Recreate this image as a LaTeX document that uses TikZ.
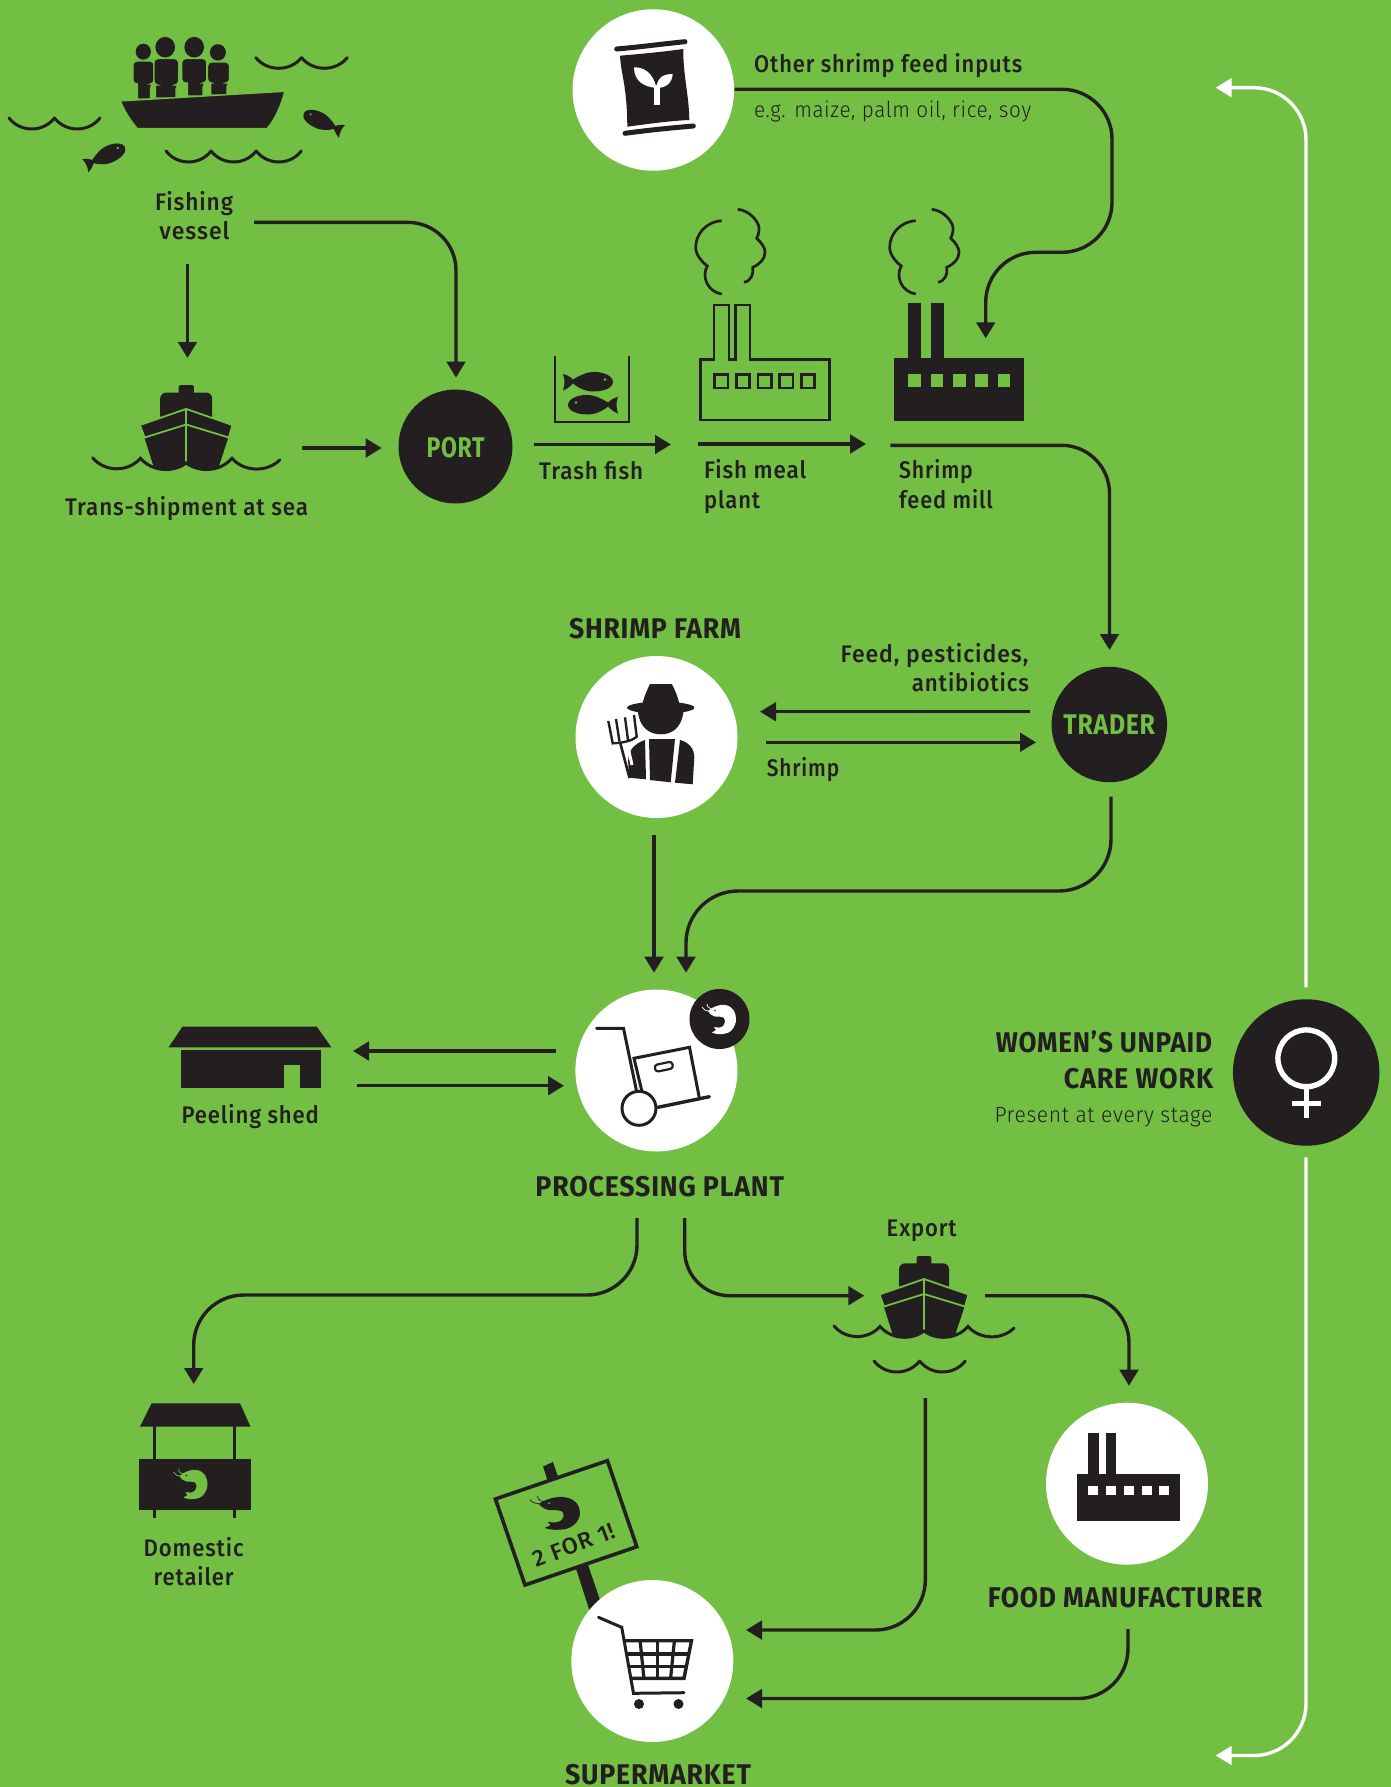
\documentclass[tikz,border=0pt]{standalone}
\usepackage{fontspec}
\usepackage{graphicx}
\usetikzlibrary{arrows.meta}
\setmainfont{Fira Sans}[LetterSpace=3]
\newfontfamily\fmed{Fira Sans Medium}[LetterSpace=4]
\newfontfamily\flig{Fira Sans Light}[LetterSpace=3]
\definecolor{ink}{HTML}{231F20}
\definecolor{bg}{HTML}{72BF44}
\newcommand\fw[2]{\resizebox{#1pt}{\height}{#2}}
\tikzset{
  conn/.style={line width=3.4pt,color=ink,-{Triangle[length=16pt,width=18.5pt]}},
  wconn/.style={line width=3.4pt,color=white,-{Triangle[length=16pt,width=18.5pt]}},
  wavey/.style={ink,line width=3pt,line cap=round},
  lab/.style={inner sep=0pt,text=ink,font=\fmed\fontsize{24}{24}\selectfont},
  head/.style={inner sep=0pt,text=ink,font=\bfseries\fontsize{28.5}{28}\selectfont},
  thin lab/.style={inner sep=0pt,text=ink,font=\flig\fontsize{22}{22}\selectfont},
  disc/.style={circle,inner sep=0pt,minimum size=#1pt},
  pics/ship/.style={code={
    \fill[ink,rounded corners=1.5pt] (-7.3,-75) rectangle (7.3,-60);
    \fill[ink,rounded corners=6pt] (-25,-40) -- (-25,-67.7) -- (25,-67.7) -- (25,-40) -- cycle;
    \fill[ink] (-40,-24) -- (0,-37) -- (41,-26) -- (31.5,3) .. controls (22,8) and (10,6) .. (0,0) .. controls (-10,6) and (-22,8) .. (-31.5,3) -- cycle;
    \filldraw[fill=ink,draw=bg,line width=1.8pt] (0,-52) -- (44.5,-36.5) -- (41,-24.5) -- (0,-37) -- (-40,-24.5) -- (-44.5,-36.5) -- cycle;
    \draw[bg,line width=1.6pt] (0,-52) -- (0,-1);
    \draw[wavey] (-90,-5) .. controls (-78,9) and (-56,9) .. (-44,-4.5) .. controls (-32,9) and (-12,9) .. (0,0) .. controls (12,9) and (32,9) .. (44,-4.5) .. controls (56,9) and (78,9) .. (90,-3);
  }},
  pics/fish/.style={code={
    \fill[ink] (25,0) .. controls (24,-8) and (8,-12) .. (-3,-8) .. controls (-8,-6) and (-12,-4) .. (-15,-2) .. controls (-18,-5) and (-22,-7) .. (-25,-7.5) .. controls (-23,-3) and (-23,3) .. (-25,9) .. controls (-21,7.5) and (-18,5) .. (-15,2) .. controls (-8,8) and (0,10) .. (5,10) .. controls (15,10) and (25,7) .. (25,0) -- cycle;
    \fill[bg] (17,-2) circle (1.4);
  }},
  pics/factory/.style={code={
    \fill[ink] (0,-63) rectangle (130,0);
    \fill[ink] (14,-117.7) rectangle (27,-60);
    \fill[ink] (36.4,-117.7) rectangle (49.4,-60);
    \foreach \i in {0,...,4} \fill[#1] ({14+22.35*\i},-47) rectangle ++(12.7,12.7);
  }},
  pics/smoke/.style={code={
    \draw[ink,line width=2.7pt] (21.7,-199.3) .. controls (5,-198) and (-4.3,-185) .. (-4.3,-172.7) .. controls (-4.3,-165) and (2,-158) .. (7.3,-154) .. controls (1,-143) and (8,-128) .. (21.7,-126);
    \draw[ink,line width=2.7pt] (37.7,-210.7) .. controls (50,-209.5) and (59,-198) .. (59,-191.7) .. controls (59,-187) and (58,-184) .. (56.7,-181.7) .. controls (62,-177) and (65,-172) .. (65,-167.7) .. controls (65,-161) and (60,-156) .. (52.7,-152.7) .. controls (54,-146) and (51,-139) .. (44,-137.7);
  }},
  pics/shrimp/.style 2 args={code={
    \draw[#1,line width=.7pt] (8,7) .. controls (4,7) and (1,6) .. (0,3);
    \draw[#1,line width=.7pt] (9,5) .. controls (6,4) and (5,2) .. (5,0);
    \fill[#1] (6,7) .. controls (10,3) and (18,0) .. (23,1) .. controls (31,2) and (34,9) .. (34,15) .. controls (34,23) and (28,30) .. (21,30) .. controls (17,30.5) and (13,30) .. (10,28.5) -- (14,26) -- (12,23) .. controls (15,24) and (19,24) .. (21,22) .. controls (23,20) and (23.5,16) .. (22,14) .. controls (20,12) and (16,13) .. (13,12.5) .. controls (10,12) and (8,10) .. (6,7) -- cycle;
    \fill[#2] (13,6.5) circle (.8);
  }}
}
\newcommand\person[7]{\filldraw[fill=ink,draw=bg,line width=1.1pt,rounded corners=4pt] (#1,#4) -- (#1,#3) -- (#2,#3) -- (#2,#4) -- (#6,#4) [sharp corners] -- (#6,#7) -- (#5,#7) -- (#5,#4) [rounded corners=4pt] -- cycle;}
\newcommand\dips[5]{\foreach \k in {1,...,#3}{\pgfmathsetmacro\xa{#1+(\k-1)*#4}\pgfmathsetmacro\xb{#1+\k*#4}\pgfmathsetmacro\xc{\xa+#4*.25}\pgfmathsetmacro\xd{\xa+#4*.75}\pgfmathsetmacro\yc{#2+#5*1.33}\draw[wavey] (\xa,#2) .. controls (\xc,\yc) and (\xd,\yc) .. (\xb,#2);}}
\begin{document}
\begin{tikzpicture}[x=1pt,y=-1pt]
\useasboundingbox (0,0) rectangle (1391,1787);
\fill[bg] (0,0) rectangle (1391,1787);

% ---- discs
\node[disc=161.5,fill=white] (input) at (653.3,90) {};
\node[disc=114,fill=ink] (port) at (455.5,446.5) {};
\node[disc=115.5,fill=ink] (trader) at (1109.3,724.5) {};
\node[disc=162,fill=white] (farm) at (656.5,737) {};
\node[disc=162,fill=white] (plant) at (656.4,1070.5) {};
\node[disc=60,fill=ink] (badge) at (719.5,1019) {};
\node[disc=162,fill=white] (mfr) at (1127,1483.7) {};
\node[disc=146.5,fill=ink] (women) at (1306.2,1072.5) {};

% ---- fishing vessel
\fill[ink] (143.3,51.7) ellipse (7.6 and 8);
\fill[ink] (165.2,47.2) ellipse (9.8 and 10.3);
\fill[ink] (194.2,47.2) ellipse (9.8 and 10.3);
\fill[ink] (217.9,52.4) ellipse (8 and 8.2);
\person{133}{154}{61}{84}{137.5}{150.4}{99}
\person{207.6}{229.5}{62}{83}{210.7}{226.8}{95}
\person{154}{178.6}{58.6}{85}{155.5}{176}{98}
\person{181.7}{206.7}{58.6}{83}{187.5}{203}{96}
\filldraw[fill=ink,draw=bg,line width=1.2pt] (120.5,101) -- (284.8,91.4) .. controls (281,105) and (276,118) .. (267,128.6) -- (137.5,128.6) .. controls (130,120) and (124,110) .. (120.5,101) -- cycle;
\dips{255.8}{57.6}{2}{45.75}{10.7}
\dips{9}{118}{2}{45.5}{11}
\dips{166}{151}{3}{45.1}{11}
\pic[rotate=25,scale=.88] at (105,156) {fish};
\pic[rotate=-25,xscale=-.85,yscale=.85] at (323,122) {fish};

% ---- trans-shipment, trash fish
\pic[scale=1.04] at (186.2,463) {ship};
\draw[ink,line width=2.2pt] (555,356) -- (555,422) -- (629,422) -- (629,356);
\pic at (588,381.5) {fish};
\pic[xscale=-1] at (593,404.5) {fish};

% ---- fish meal plant
\draw[ink,line width=2.7pt] (700.7,420) -- (700.7,359.3) -- (714,359.3) -- (714,305) -- (729,305) -- (729,359.3) -- (735.7,359.3) -- (735.7,305) -- (750,305) -- (750,359.3) -- (829.3,359.3) -- (829.3,420) -- cycle;
\foreach \i in {0,...,4} \draw[ink,line width=2.7pt] ({714.5+21.7*\i},374.5) rectangle ++(13.5,13.5);
\pic at (700,420) {smoke};
% ---- feed mill
\pic at (894.3,421) {factory=bg};
\pic at (894,420) {smoke};

% ---- feed bag
\draw[ink,line width=5pt,line cap=round] (616.7,49) .. controls (640,47) and (662,44) .. (685,41.7);
\draw[ink,line width=5pt,line cap=round] (625,133.3) .. controls (650,130) and (670,128) .. (693.3,126);
\fill[ink] (620,55.7) .. controls (640,54) and (662,52) .. (683.3,49) .. controls (683,75) and (689,95) .. (689.3,120) .. controls (668,121) and (648,124) .. (627.3,126.7) .. controls (627,85) and (621,75) .. (620,55.7) -- cycle;
\fill[white] (634,67.3) .. controls (643,67) and (653,72) .. (656.5,88) .. controls (645,87) and (634,82) .. (634,67.3) -- cycle;
\fill[white] (672.7,74) .. controls (664,74) and (657,77) .. (656.5,88) .. controls (665,88) and (672,84) .. (672.7,74) -- cycle;
\fill[white] (653.5,85) -- (660,85) -- (660,105) -- (653.5,105) -- cycle;

% ---- farmer
\fill[ink] (660.7,707.7) ellipse (33.7 and 6);
\fill[ink] (641.7,707) .. controls (644,696) and (648,688) .. (650,684) -- (671.7,684) .. controls (674,688) and (678,696) .. (680,707) -- cycle;
\fill[ink] (638,712) .. controls (640,730) and (652,734.3) .. (660.7,734.3) .. controls (670,734.3) and (681,730) .. (683.4,712) -- cycle;
\fill[ink] (649,739) -- (675,739) -- (670.7,782.3) -- (650,780) -- cycle;
\fill[ink] (645,740) -- (646,779.3) -- (628.3,777.7) -- (628.3,765) .. controls (627,752) and (633,744) .. (645,740) -- cycle;
\fill[ink] (680,740) .. controls (688,742) and (694.3,748) .. (694.3,757) -- (692.7,784.3) -- (675,782.7) -- cycle;
\draw[white,line width=3pt] (627.5,745) -- (632,765);
\draw[ink,line width=2.4pt] (608.3,721) -- (612.7,743.3) .. controls (622,743) and (632,741) .. (636.7,736.7) -- (634,715);
\draw[ink,line width=2.4pt] (616,719) -- (619.5,741.5);
\draw[ink,line width=2.4pt] (625,717.3) -- (628,740);
\draw[ink,line width=2.6pt] (620,742) -- (629.5,778);

% ---- shed
\fill[ink] (182.4,1026.7) -- (316.8,1026.7) -- (331.4,1047.3) -- (168.6,1047.3) -- cycle;
\fill[ink] (180.8,1050) rectangle (320.8,1087.7);
\fill[bg] (284,1065) rectangle (299.8,1087.7);

% ---- trolley
\draw[ink,line width=3pt,line cap=round] (596.6,1028.3) -- (623.5,1028.3) -- (637,1093.3);
\draw[ink,line width=3pt] (642,1091.7) -- (634,1058.3) -- (689.5,1047.3) -- (699.4,1098.3);
\draw[ink,line width=2.2pt,rounded corners=3pt,rotate around={12:(663.8,1066.7)}] (654.8,1063.2) rectangle (672.8,1070.2);
\draw[ink,line width=3.4pt,line cap=round] (658,1107.3) -- (709.3,1096.7);
\draw[ink,fill=white,line width=3pt] (639,1108.3) circle (17);
\pic at (702,1004) {shrimp={white}{ink}};

% ---- stall
\fill[ink] (151.6,1403.3) -- (240,1403.3) -- (250.5,1426.7) -- (140,1426.7) -- cycle;
\fill[ink] (152.8,1426) rectangle (156.2,1518);
\fill[ink] (232.8,1426) rectangle (236.2,1518);
\fill[ink] (139,1459.3) rectangle (251,1510);
\pic at (173.5,1469) {shrimp={bg}{ink}};

% ---- sign and supermarket
\fill[ink] (543.1,1466.5) -- (553,1462) -- (600,1600) -- (590,1612) -- cycle;
\filldraw[fill=bg,draw=ink,line width=3.6pt] (495.4,1499) -- (607.4,1460.7) -- (636.8,1546.7) -- (525,1585) -- cycle;
\pic[xscale=1.47,yscale=1.12] at (530,1496) {shrimp={ink}{bg}};
\node[disc=162,fill=white] (super) at (652.3,1661) {};
\draw[ink,line width=3pt,line cap=round] (598.5,1617.3) -- (621.7,1627.3) -- (633.5,1693.3) -- (684,1692.7);
\draw[ink,line width=3.4pt] (623,1640.7) -- (691.5,1640.7) -- (684,1678.3) -- (630.5,1678.3);
\foreach \a/\b in {640.1/643.9,657.2/657.2,674.4/670.6} \draw[ink,line width=3.2pt] (\a,1640.7) -- (\b,1678.3);
\draw[ink,line width=3.2pt] (626,1654) -- (689,1654);
\draw[ink,line width=3.2pt] (628,1666.3) -- (686.5,1666.3);
\fill[ink] (639,1704) circle (5);
\fill[ink] (678.5,1704) circle (5);

% ---- export ship and food factory
\pic at (924,1331) {ship};
\dips{874}{1361}{2}{45.65}{11}
\pic[xscale=.792,yscale=.745] at (1077.3,1520.7) {factory=white};

% ---- venus
\draw[white,line width=5.4pt] (1306.3,1058.3) circle (28.4);
\draw[white,line width=5.4pt] (1306.3,1087) -- (1306.3,1118.3);
\draw[white,line width=5.4pt] (1291.7,1103.3) -- (1321,1103.3);

% ---- connector end points
\coordinate (fvA) at (254,222.4);
\coordinate (portN) at (456,377.6);
\coordinate (fvB) at (187.5,264.5);
\coordinate (transT) at (187.5,358);
\coordinate (transR) at (302,448);
\coordinate (portW) at (381.7,448);
\coordinate (tfA) at (534,444.5);
\coordinate (tfB) at (671,444.5);
\coordinate (fmA) at (698,444);
\coordinate (fmB) at (866,444);
\coordinate (fdA) at (890.3,445.3);
\coordinate (fdC) at (1109.5,445.3);
\coordinate (traderN) at (1109.5,650);
\coordinate (inA) at (734.7,89.3);
\coordinate (inB) at (1112,89.3);
\coordinate (inC) at (1112,252.3);
\coordinate (inD) at (985.7,252.3);
\coordinate (millN) at (985.7,338.3);
\coordinate (trW) at (1030,711.7);
\coordinate (farmE) at (760,711.7);
\coordinate (farmF) at (766,742.3);
\coordinate (trX) at (1036,742.3);
\coordinate (trS) at (1111,796.7);
\coordinate (trC) at (1111,891);
\coordinate (trD) at (686,891);
\coordinate (plN) at (686,972.7);
\coordinate (farmS) at (654,835);
\coordinate (plM) at (654,972.7);
\coordinate (plW) at (556,1051);
\coordinate (shE) at (353,1051);
\coordinate (shF) at (357,1085.7);
\coordinate (plX) at (564,1085.7);
\coordinate (plA) at (637,1218);
\coordinate (plB) at (637,1295);
\coordinate (stC) at (193.7,1295);
\coordinate (stN) at (193.7,1384);
\coordinate (plE) at (684.7,1218);
\coordinate (plF) at (684.7,1295.7);
\coordinate (exW) at (864.3,1295.7);
\coordinate (exE) at (985,1295.7);
\coordinate (exC) at (1129,1295.7);
\coordinate (mfN) at (1129,1385.7);
\coordinate (exS) at (925.3,1398);
\coordinate (exD) at (925.3,1630);
\coordinate (suE) at (746,1630);
\coordinate (mfS) at (1128,1629);
\coordinate (mfC) at (1128,1698.5);
\coordinate (suF) at (746,1698.5);
\coordinate (wnN) at (1306,987.3);
\coordinate (wnC) at (1306,87.7);
\coordinate (wnE) at (1215.6,87.7);
\coordinate (wnS) at (1306,1157.3);
\coordinate (wnD) at (1306,1755.5);
\coordinate (wnF) at (1215.6,1755.5);

% ---- connectors
\draw[conn,rounded corners=48pt] (fvA) -| (portN);
\draw[conn] (fvB) -- (transT);
\draw[conn] (transR) -- (portW);
\draw[conn] (tfA) -- (tfB);
\draw[conn] (fmA) -- (fmB);
\draw[conn,rounded corners=48pt] (fdA) -- (fdC) -- (traderN);
\draw[conn,rounded corners=50pt] (inA) -- (inB) -- (inC) -- (inD) -- (millN);
\draw[conn] (trW) -- (farmE);
\draw[conn] (farmF) -- (trX);
\draw[conn,rounded corners=52pt] (trS) -- (trC) -- (trD) -- (plN);
\draw[conn] (farmS) -- (plM);
\draw[conn] (plW) -- (shE);
\draw[conn] (shF) -- (plX);
\draw[conn,rounded corners=50pt] (plA) -- (plB) -- (stC) -- (stN);
\draw[conn,rounded corners=45pt] (plE) -- (plF) -- (exW);
\draw[conn,rounded corners=47pt] (exE) -- (exC) -- (mfN);
\draw[conn,rounded corners=50pt] (exS) -- (exD) -- (suE);
\draw[conn,rounded corners=50pt] (mfS) -- (mfC) -- (suF);
\draw[wconn,rounded corners=52pt] (wnN) -- (wnC) -- (wnE);
\draw[wconn,rounded corners=52pt] (wnS) -- (wnD) -- (wnF);

% ---- texts
\node[lab,anchor=base] (tFishing) at (194,211) {\fw{78}{Fishing}};
\node[lab,anchor=base] (tVessel) at (194.5,240) {\fw{70}{vessel}};
\node[lab,anchor=base] (tTrans) at (186.6,515.5) {\fw{243}{Trans-shipment at sea}};
\node[head,anchor=base,text=bg] (tPort) at (455.5,457) {\fw{58}{PORT}};
\node[lab,anchor=base west] (tTrash) at (539,479) {\fw{104}{Trash fish}};
\node[lab,anchor=base west] (tMeal) at (704,478) {\fw{102}{Fish meal}};
\node[lab,anchor=base west] (tPlantw) at (704,508) {\fw{56}{plant}};
\node[lab,anchor=base west] (tShr) at (899,478) {\fw{73.7}{Shrimp}};
\node[lab,anchor=base west] (tMill) at (899,508) {\fw{93.7}{feed mill}};
\node[lab,anchor=base west] (tOther) at (754,73) {\fw{268}{Other shrimp feed inputs}};
\node[thin lab,anchor=base west] (tEg) at (754,118) {\fw{277}{e.g. maize, palm oil, rice, soy}};
\node[head,anchor=base] (tFarm) at (655,638) {\fw{172}{SHRIMP FARM}};
\node[lab,anchor=base east] (tFeed) at (1028.5,662.3) {\fw{187.6}{Feed, pesticides,}};
\node[lab,anchor=base east] (tAnti) at (1029.3,691.7) {\fw{117.3}{antibiotics}};
\node[lab,anchor=base west] (tShrimp) at (766.7,776) {\fw{72.3}{Shrimp}};
\node[head,anchor=base,text=bg] (tTrader) at (1109.2,734.3) {\fw{91.7}{TRADER}};
\node[lab,anchor=base] (tPeel) at (250.3,1123) {\fw{137.4}{Peeling shed}};
\node[head,anchor=base] (tProc) at (659.7,1196) {\fw{248.6}{PROCESSING PLANT}};
\node[lab,anchor=base] (tExport) at (921.7,1236.7) {\fw{70}{Export}};
\node[head,anchor=base east] (tWomen) at (1212.3,1052.7) {\fw{216.3}{WOMEN’S UNPAID}};
\node[head,anchor=base east] (tCare) at (1213.3,1088.7) {\fw{149.3}{CARE WORK}};
\node[thin lab,anchor=base east] (tPres) at (1212.7,1122.7) {\fw{218}{Present at every stage}};
\node[lab,anchor=base] (tDom) at (193.6,1556.7) {\fw{100}{Domestic}};
\node[lab,anchor=base] (tRet) at (193.6,1585.7) {\fw{80}{retailer}};
\node[head,anchor=base] (tMfr) at (1125,1607) {\fw{274.5}{FOOD MANUFACTURER}};
\node[head,anchor=base] (tSuper) at (658,1784) {\fw{186}{SUPERMARKET}};
\node[lab,anchor=base,font=\fmed\fontsize{23}{23}\selectfont,rotate=21] (tTwo) at (577,1552.5) {\fw{86}{2 FOR 1!}};
\end{tikzpicture}
\end{document}
